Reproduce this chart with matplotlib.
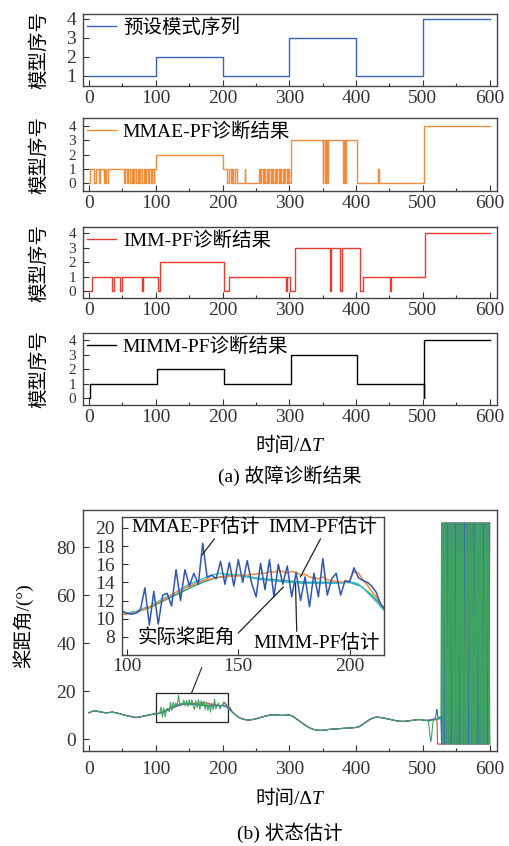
import numpy as np
import matplotlib
matplotlib.use('Agg')
import matplotlib.pyplot as plt
from matplotlib.ticker import MultipleLocator
from matplotlib.patches import Rectangle

plt.rcParams['font.family'] = ['Liberation Serif', 'Noto Sans CJK SC']
plt.rcParams['font.size'] = 14
plt.rcParams['axes.unicode_minus'] = False

# --- (a) 模式序列：切换时刻 / 切换后的模型序号 ---
preset_t = [0, 100, 200, 300, 400, 500, 600]
preset_v = [1, 2, 1, 3, 1, 4, 4]

mmae_t = [0, 2, 8, 10, 15, 17, 22, 24, 26, 28,
          52, 54, 57, 59, 62, 64, 66, 68, 71, 73,
          75, 77, 80, 82, 84, 86, 88, 90, 93, 95,
          97, 98, 101, 201, 207, 209, 212, 214, 216, 219,
          221, 233, 234, 254, 256, 258, 260, 262, 264, 266,
          268, 270, 272, 274, 276, 278, 280, 282, 284, 286,
          288, 290, 292, 294, 296, 298, 300, 302, 350, 351,
          353, 355, 357, 358, 381, 382, 384, 385, 402, 433,
          434, 501, 600]
mmae_v = [0, 1, 0, 1, 0, 1, 0, 1, 0, 1,
          0, 1, 0, 1, 0, 1, 0, 1, 0, 1,
          0, 1, 0, 1, 0, 1, 0, 1, 0, 1,
          0, 1, 2, 1, 0, 1, 0, 1, 0, 1,
          0, 1, 0, 1, 0, 1, 0, 1, 0, 1,
          0, 1, 0, 1, 0, 1, 0, 1, 0, 1,
          0, 1, 0, 1, 0, 1, 0, 3, 0, 3,
          0, 3, 0, 3, 0, 3, 0, 3, 0, 1,
          0, 4, 4]

imm_t = [0, 5, 35, 37, 46, 49, 79, 81, 103, 106, 202, 210, 295,
         297, 301, 309, 361, 363, 376, 379, 406, 411, 451, 453, 503, 600]
imm_v = [0, 1, 0, 1, 0, 1, 0, 1, 0, 2, 0, 1, 0,
         1, 0, 3, 0, 3, 0, 3, 0, 1, 0, 1, 4, 4]

mimm_t = [0, 2, 102, 202, 302, 402, 501, 502, 600]
mimm_v = [0, 1, 2, 1, 3, 1, 0, 4, 4]

# --- (b) 桨距角 ---
t_a = np.arange(0, 506, 5)
actual = [11.0, 11.6, 11.8, 11.5, 11.2, 11.0, 11.1, 11.3, 11.0, 10.7,
          10.3, 9.9, 9.6, 9.3, 9.0, 9.2, 9.5, 9.8, 10.1, 10.4,
          10.6, 10.8, 11.2, 11.8, 12.4, 13.0, 13.6, 14.1, 14.5, 14.7,
          14.8, 14.6, 14.4, 14.3, 14.2, 14.1, 14.0, 14.0, 14.0, 14.0,
          14.0, 13.6, 12.6, 11.3, 10.0, 9.0, 8.4, 8.1, 8.0, 8.2,
          8.5, 8.9, 9.3, 9.7, 10.0, 10.2, 10.1, 10.0, 9.9, 10.0,
          10.1, 9.6, 8.6, 7.6, 6.6, 5.6, 4.8, 4.2, 3.8, 3.7,
          3.7, 3.9, 4.1, 4.2, 4.3, 4.4, 4.5, 4.6, 4.7, 4.8,
          4.9, 5.3, 6.2, 7.2, 8.1, 8.8, 9.2, 9.1, 8.9, 8.6,
          8.3, 8.0, 7.7, 7.5, 7.4, 7.5, 7.7, 7.9, 8.1, 8.2,
          8.0, 7.8]

# 局部放大区间 (96~216)
t_in = np.arange(96, 217, 2)
mmae_in = [10.6, 10.8, 10.6, 10.5, 10.6, 11.0, 13.4, 9.3, 13.0, 9.4,
           12.6, 12.8, 11.4, 15.4, 12.0, 15.4, 13.6, 15.0, 13.8, 18.3,
           14.5, 14.8, 14.4, 16.3, 13.8, 16.2, 13.6, 16.5, 14.0, 16.4,
           13.9, 12.4, 16.1, 13.2, 16.5, 12.4, 16.0, 13.8, 15.8, 12.4,
           15.1, 12.0, 14.6, 11.3, 15.0, 12.4, 16.6, 12.6, 14.4, 15.0,
           12.6, 14.2, 14.0, 15.6, 14.5, 14.2, 14.0, 13.6, 12.9, 11.6,
           11.0]
imm_in = [10.4, 10.5, 10.5, 10.6, 10.7, 10.9, 11.1, 11.3, 11.5, 11.8,
          12.0, 12.3, 12.6, 12.9, 13.1, 13.4, 13.6, 13.8, 14.0, 14.2,
          14.3, 14.4, 14.5, 14.6, 14.6, 14.7, 14.7, 14.7, 14.8, 14.8,
          14.9, 14.9, 15.0, 15.0, 15.2, 15.1, 15.3, 15.2, 15.0, 15.2,
          15.1, 14.8, 14.9, 14.6, 14.5, 14.4, 14.6, 14.3, 14.2, 14.1,
          14.0, 14.0, 14.2, 15.2, 15.0, 14.3, 13.7, 13.0, 12.4, 11.6,
          11.0]
mimm_in = [10.4, 10.5, 10.6, 10.7, 10.8, 11.0, 11.2, 11.3, 11.6, 11.9,
           12.2, 12.4, 12.6, 12.9, 13.2, 13.5, 13.8, 14.0, 14.2, 14.4,
           14.6, 14.8, 14.9, 15.0, 14.9, 14.9, 14.8, 14.8, 14.7, 14.6,
           14.5, 14.4, 14.3, 14.3, 14.2, 14.2, 14.1, 14.1, 14.0, 14.0,
           14.0, 13.9, 13.9, 13.9, 13.9, 13.9, 13.9, 13.9, 13.9, 13.9,
           13.9, 14.0, 14.0, 14.0, 13.8, 13.4, 12.9, 12.4, 11.9, 11.3,
           10.8]

# 尾段 (506~600)，发散部分
t_tail = np.arange(506, 601)
green_tail = [7.8, 7.7, 7.6, 6.0, 3.0, 0.5, -1.0, 1.0, 4.0, 7.0,
              7.8, 8.0, 8.1, 8.3, 8.0, 8.2, 8.5, 8.3, 8.8, 8.6, 9.0, 9.2,
              90, -2, 90, -2, 90, 90, -2, 90, -2, -2,
              90, -2, 90, -2, 90, 90, -2, 90, -2, 90,
              -2, -2, 90, -2, 90, -2, 90, 90, -2, 90,
              -2, 90, -2, 90, -2, -2, 90, -2, 90, -2,
              90, 90, -2, 90, -2, 90, -2, 90, -2, -2,
              90, -2, 90, -2, 90, 90, -2, 90, -2, 90,
              -2, 90, -2, -2, 90, -2, 90, -2, 90, 90,
              -2, 90, -2]
blue_tail = [7.9, 7.9, 8.0, 8.0, 7.9, 8.0, 8.1, 8.0, 8.1, 8.2,
             8.3, 8.4, 8.6, 9.0, 11.0, 12.4, 10.0, 8.5, 9.0, 8.8, 9.5, 9.0,
             -2, 90, -2, 90, -2, -2, 90, -2, 90, 90,
             -2, 90, -2, 90, -2, -2, 90, -2, 90, -2,
             90, 90, -2, 90, -2, 90, -2, -2, 90, -2,
             90, -2, 90, -2, 90, 90, -2, 90, -2, 90,
             -2, -2, 90, -2, 90, -2, 90, -2, 90, 90,
             -2, 90, -2, 90, -2, -2, 90, -2, 90, -2,
             90, -2, 90, 90, -2, 90, -2, 90, -2, -2,
             90, -2, 90]
red_tail = [7.8, 7.8, 7.9, 8.0, 8.0, 8.1, 8.1, 8.2, 8.2, 8.3,
            8.3, 8.4, 8.4, 8.5, 8.3, 8.3, -2, -2, -2, -2, -2, -2,
            -2, -2, -2, -2, 90, -2, 90, -2, 90, -2,
            -2, 90, -2, 90, -2, 90, 90, -2, 90, -2,
            90, -2, 90, -2, -2, 90, -2, 90, -2, 90,
            90, -2, 90, -2, 90, -2, -2, 90, -2, 90,
            -2, 90, -2, 90, 90, -2, 90, -2, 90, -2,
            -2, 90, -2, 90, -2, 90, 90, -2, 90, -2,
            90, -2, 90, -2, -2, 90, -2, 90, -2, 90,
            90, -2, 90]
cyan_tail = [7.8, 7.7, 7.7, 7.6, 7.6, 7.7, 7.8, 7.9, 8.0, 8.0,
             8.1, 8.1, 8.2, 8.2, 8.3, 8.3, 8.4, 8.4, 8.5, 8.5, 8.6, 8.6,
             8, 90, -2, 90, -2, 90, -2, 90, 90, -2,
             90, -2, -2, 90, -2, 90, -2, 90, -2, 90,
             90, -2, 90, -2, 90, -2, -2, 90, -2, 90,
             -2, 90, 90, -2, 90, -2, 90, -2, -2, 90,
             -2, 90, -2, 90, -2, 90, 90, -2, 90, -2,
             90, -2, -2, 90, -2, 90, -2, 90, -2, 90,
             90, -2, 90, -2, 90, -2, -2, 90, -2, 90,
             -2, 90, -2]
orange_tail = [7.9, 7.8, 7.8, 7.7, 7.7, 7.8, 7.9, 8.0, 8.1, 8.1,
               8.2, 8.2, 8.3, 8.3, 8.4, 8.4, 8.5, 8.5, 8.6, 8.6, 8.7, 8.7,
               9, 8, 90, -2, 90, -2, 90, -2, -2, 90,
               -2, 90, -2, 90, 90, -2, 90, -2, 90, -2,
               -2, 90, -2, 90, -2, 90, 90, -2, 90, -2,
               90, -2, -2, 90, -2, 90, -2, 90, 90, -2,
               90, -2, 90, -2, -2, 90, -2, 90, -2, 90,
               90, -2, 90, -2, 90, -2, -2, 90, -2, 90,
               -2, 90, 90, -2, 90, -2, 90, -2, 90, -2,
               -2, 90, -2]

C_BLUE, C_ORANGE, C_RED = '#3a62c0', '#f28c3a', '#ec3b2c'
C_GREEN, C_CYAN, C_ACT = '#3fa463', '#3ec3d3', '#2f9c7c'

W, H = 510, 846
fig = plt.figure(figsize=(W / 100, H / 100), dpi=100)


def add_ax(l, t, r, b):
    return fig.add_axes([l / W, 1 - b / H, (r - l) / W, (b - t) / H])


def style(ax, xpad=3, ypad=5, ysize=14):
    ax.tick_params(which='both', direction='in', top=False, right=False,
                   width=0.8, colors='#333333', labelsize=14)
    ax.tick_params(which='major', length=4)
    ax.tick_params(which='minor', length=2.5)
    ax.tick_params(axis='x', pad=xpad)
    ax.tick_params(axis='y', pad=ypad, labelsize=ysize)
    for s in ax.spines.values():
        s.set_linewidth(1.0)
        s.set_color('#444444')


def build(vals_in, tail):
    # 平滑段用实际桨距角，放大区间用各自估计值，最后接尾段
    act = np.asarray(actual)
    if vals_in is None:
        return np.concatenate([t_a, t_tail]), np.concatenate([act, tail])
    lo = t_a < t_in[0]
    hi = t_a > t_in[-1]
    t = np.concatenate([t_a[lo], t_in, t_a[hi], t_tail])
    v = np.concatenate([act[lo], vals_in, act[hi], tail])
    return t, v


# ---------- (a) 故障诊断结果 ----------
panels = [
    ((14, 86), preset_t, preset_v, C_BLUE, '预设模式序列', (0.47, 4.26), [1, 2, 3, 4], 14),
    ((118, 191), mmae_t, mmae_v, C_ORANGE, 'MMAE-PF诊断结果', (-0.53, 4.56), [0, 1, 2, 3, 4], 11),
    ((227, 298), imm_t, imm_v, C_RED, 'IMM-PF诊断结果', (-0.49, 4.44), [0, 1, 2, 3, 4], 11),
    ((333, 405), mimm_t, mimm_v, 'black', 'MIMM-PF诊断结果', (-0.46, 4.5), [0, 1, 2, 3, 4], 11),
]
for (top, bot), t, v, c, lab, ylim, yt, ys in panels:
    ax = add_ax(83, top, 497, bot)
    ax.step(t, v, where='post', color=c, lw=1.0, label=lab)
    ax.set_xlim(-9, 611)
    ax.set_ylim(*ylim)
    ax.set_xticks(range(0, 601, 100))
    ax.xaxis.set_minor_locator(MultipleLocator(50))
    ax.set_yticks(yt)
    style(ax, xpad=3, ypad=5, ysize=ys)
    ax.legend(loc='upper left', frameon=False, handlelength=1.5,
              handletextpad=0.35, borderaxespad=0.1, borderpad=0.1)
    fig.text(39 / W, 1 - (top + bot) / 2 / H, '模型序号', rotation=90,
             ha='center', va='center', fontsize=14)

# ---------- (b) 状态估计 ----------
axb = add_ax(83, 510, 497, 751)
series_b = [(None, orange_tail, C_ORANGE),
            (mimm_in, cyan_tail, C_CYAN),
            (imm_in, red_tail, C_RED),
            (None, blue_tail, C_BLUE),
            (mmae_in, green_tail, C_GREEN)]
for vals, tail, c in series_b:
    tt, vv = build(vals, tail)
    axb.plot(tt, vv, color=c, lw=0.8)

axb.add_patch(Rectangle((100, 7.3), 108.5, 12.0, fill=False, ec='#222222', lw=0.9))
axb.plot([153.7, 168.7], [19.3, 29.7], color='#222222', lw=0.8)
axb.set_xlim(-9, 611)
axb.set_ylim(-4.9, 95.4)
axb.set_xticks(range(0, 601, 100))
axb.xaxis.set_minor_locator(MultipleLocator(50))
axb.set_yticks(range(0, 81, 20))
style(axb, xpad=7, ypad=5)

# 局部放大图
axin = add_ax(122, 517, 384, 655)
axin.plot(t_a, actual, color=C_ACT, lw=1.1)
axin.plot(t_in, mimm_in, color=C_CYAN, lw=1.1)
axin.plot(t_in, imm_in, color=C_ORANGE, lw=1.1)
axin.plot(t_in, mmae_in, color='#2f55b5', lw=1.1)
axin.set_xlim(97.7, 215.5)
axin.set_ylim(6.0, 21.2)
axin.set_xticks([100, 150, 200])
axin.set_yticks(range(8, 21, 2))
style(axin, xpad=2, ypad=5)

notes = [
    ('MMAE-PF估计', (131.0, 20.1), (133.6, 17.0), (0.66, 0.0)),
    ('IMM-PF估计', (188.1, 20.1), (177.9, 14.6), (0.49, 0.0)),
    ('实际桨距角', (126.8, 7.9), (170.3, 13.5), (1.0, 0.6)),
    ('MIMM-PF估计', (185.4, 7.3), (175.7, 13.9), (0.34, 1.0)),
]
for txt, pos, tgt, rel in notes:
    axin.annotate(txt, xy=tgt, xytext=pos, ha='center', va='center', fontsize=14,
                  arrowprops=dict(arrowstyle='-', color='#222222', lw=0.9,
                                  relpos=rel, shrinkA=0, shrinkB=0))

fig.text(23 / W, 1 - 626 / H, '桨距角/(°)', rotation=90, ha='center', va='center',
         fontsize=14)

# x 轴标题与图注
for y_lab, y_cap, cap in [(446, 476, '(a) 故障诊断结果'), (799, 833, '(b) 状态估计')]:
    t1 = fig.text(312 / W, 1 - y_lab / H, '时间/Δ', ha='right', va='center', fontsize=14)
    axb.annotate('T', xy=(1, 0), xycoords=t1, ha='left', va='bottom',
                 fontsize=14, fontstyle='italic', annotation_clip=False)
    fig.text(290 / W, 1 - y_cap / H, cap, ha='center', va='center', fontsize=14)

fig.savefig('out.png', dpi=100)
